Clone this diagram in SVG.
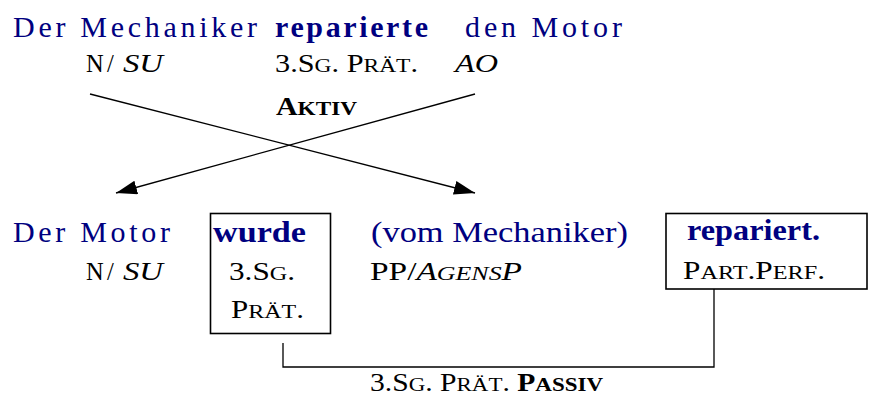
<svg xmlns="http://www.w3.org/2000/svg" width="869" height="403" viewBox="0 0 869 403">
  <style>
    text { font-family: "Liberation Serif", "Times New Roman", serif; fill: #000; }
    .word { font-size: 30px; fill: #000080; }
    .gloss { font-size: 24.5px; }
    .sc { font-size: 19px; }
    .b { font-weight: bold; }
    .i { font-style: italic; }
    .wide { font-size: 26px; }
    .edge { fill: none; stroke: #000; stroke-width: 1.3; }
    .box { fill: none; stroke: #000; stroke-width: 1.6; }
  </style>
  <defs>
    <marker id="arrow" markerUnits="userSpaceOnUse" markerWidth="22" markerHeight="16" refX="21" refY="7" orient="auto">
      <path d="M0,0 L21,7 L0,14 Z" fill="#000"/>
    </marker>
  </defs>

  <!-- active sentence -->
  <g id="active-subject">
    <text class="word" x="13" y="37" textLength="244" lengthAdjust="spacing">Der Mechaniker</text>
    <text class="gloss" x="86" y="72">N<tspan x="107">/</tspan><tspan class="i wide" x="123" textLength="40" lengthAdjust="spacingAndGlyphs">SU</tspan></text>
  </g>
  <g id="active-verb">
    <text class="word b" x="275" y="37" textLength="153" lengthAdjust="spacing">reparierte</text>
    <text class="gloss" x="275" y="72" textLength="143" lengthAdjust="spacingAndGlyphs">3.S<tspan class="sc">G</tspan>. P<tspan class="sc">RÄT</tspan>.</text>
    <text class="gloss b" x="276" y="115" textLength="81" lengthAdjust="spacingAndGlyphs">A<tspan class="sc">KTIV</tspan></text>
  </g>
  <g id="active-object">
    <text class="word" x="465" y="37" textLength="157" lengthAdjust="spacing">den Motor</text>
    <text class="gloss i wide" x="455" y="72" textLength="43" lengthAdjust="spacingAndGlyphs">AO</text>
  </g>

  <!-- passive sentence -->
  <g id="passive-subject">
    <text class="word" x="13" y="242" textLength="157" lengthAdjust="spacing">Der Motor</text>
    <text class="gloss" x="86" y="280">N<tspan x="107">/</tspan><tspan class="i wide" x="123" textLength="40" lengthAdjust="spacingAndGlyphs">SU</tspan></text>
  </g>
  <g id="passive-aux">
    <rect class="box" x="210.5" y="213.5" width="120" height="120"/>
    <text class="word b" x="213" y="242" textLength="93" lengthAdjust="spacingAndGlyphs">wurde</text>
    <text class="gloss" x="229" y="280" textLength="66" lengthAdjust="spacingAndGlyphs">3.S<tspan class="sc">G</tspan>.</text>
    <text class="gloss" x="231" y="318" textLength="73" lengthAdjust="spacingAndGlyphs">P<tspan class="sc">RÄT</tspan>.</text>
  </g>
  <g id="passive-agent">
    <text class="word" x="371" y="242" textLength="257" lengthAdjust="spacingAndGlyphs">(vom Mechaniker)</text>
    <text class="gloss" x="370" y="280" textLength="152" lengthAdjust="spacingAndGlyphs">PP/<tspan class="i">A<tspan class="sc">GENS</tspan>P</tspan></text>
  </g>
  <g id="passive-participle">
    <rect class="box" x="666" y="213.5" width="201" height="75.5"/>
    <text class="word b" x="687" y="240" textLength="133" lengthAdjust="spacingAndGlyphs">repariert.</text>
    <text class="gloss" x="683" y="279" textLength="142" lengthAdjust="spacingAndGlyphs">P<tspan class="sc">ART</tspan>.P<tspan class="sc">ERF</tspan>.</text>
  </g>
  <g id="passive-label">
    <text class="gloss" x="370" y="391" textLength="233" lengthAdjust="spacingAndGlyphs">3.S<tspan class="sc">G</tspan>. P<tspan class="sc">RÄT</tspan>. <tspan class="b">P<tspan class="sc">ASSIV</tspan></tspan></text>
  </g>

  <!-- connectors -->
  <g id="connectors">
    <line class="edge" x1="90" y1="94" x2="475" y2="193" marker-end="url(#arrow)"/>
    <line class="edge" x1="475" y1="94" x2="116" y2="193" marker-end="url(#arrow)"/>
    <polyline class="edge" points="283,343 283,367 714,367 714,289"/>
  </g>
</svg>
